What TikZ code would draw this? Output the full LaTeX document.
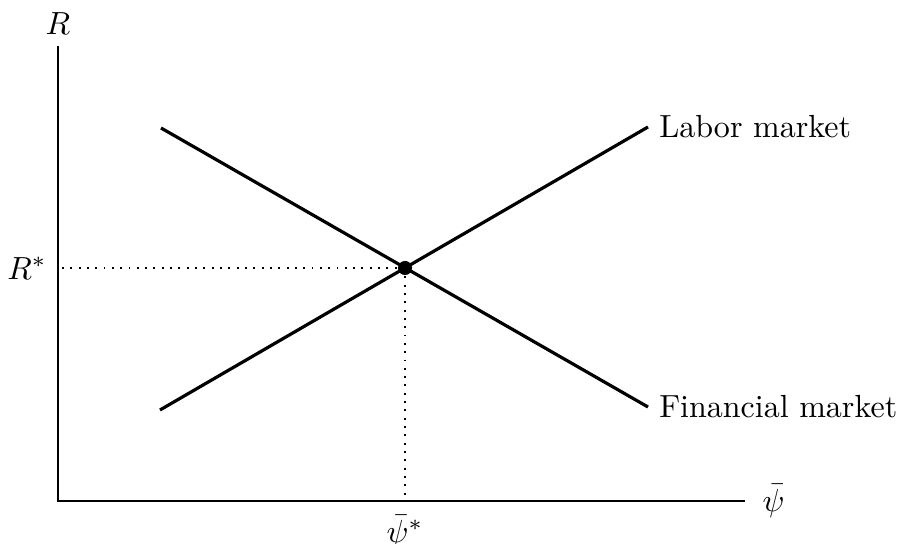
\documentclass[tikz,border=0pt]{standalone}
\usepackage{amsmath,amssymb}
\usepackage{tikz}

\begin{document}
\begin{tikzpicture}[x=0.3125pt, y=-0.3125pt,
  curve/.style={line width=1pt},
  guide/.style={dotted, semithick}]
  \useasboundingbox (0,0) rectangle (900,544);
  % Axes
  \coordinate (O) at (58,501);
  \coordinate (ytop) at (58,46);
  \coordinate (xend) at (745,501);
  \draw (ytop) -- (O) -- (xend);
  \node[anchor=south] (Rlab) at (ytop) {$R$};
  \node[anchor=west, xshift=2pt] (psilab) at (xend) {$\bar{\psi}$};
  % Equilibrium point
  \node[circle, fill, inner sep=0pt, minimum size=4.4pt] (eq) at (405,268) {};
  % Labor market
  \coordinate (lab0) at (160,410);
  \coordinate (lab1) at (648,127);
  \draw[curve] (lab0) -- (lab1);
  \node[anchor=west] (labtxt) at (lab1) {Labor market};
  % Financial market
  \coordinate (fin0) at (161,128);
  \coordinate (fin1) at (648,407);
  \draw[curve] (fin0) -- (fin1);
  \node[anchor=west] (fintxt) at (fin1) {Financial market};
  % Guides
  \draw[guide] (eq.center) -- (eq -| O);
  \draw[guide] (eq.center) -- (eq |- O);
  \node[anchor=east] (Rstar) at (eq -| O) {$R^{*}$};
  \node[anchor=north, yshift=-1pt] (psistar) at (eq |- O) {$\bar{\psi}^{*}$};
\end{tikzpicture}
\end{document}
